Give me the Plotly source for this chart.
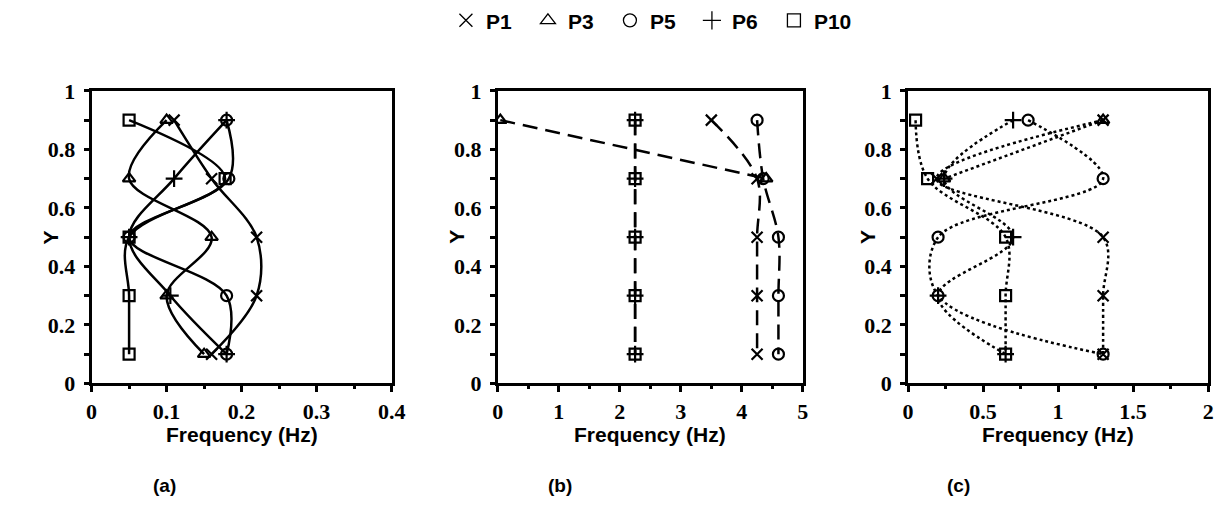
import plotly.graph_objects as go

Y = [0.9, 0.7, 0.5, 0.3, 0.1]
SERIES = ["P1", "P3", "P5", "P6", "P10"]

# panel (a)
a_P1 = [0.11, 0.16, 0.22, 0.22, 0.16]
a_P3 = [0.10, 0.05, 0.16, 0.10, 0.15]
a_P5 = [0.18, 0.183, 0.05, 0.18, 0.18]
a_P6 = [0.18, 0.11, 0.05, 0.105, 0.18]
a_P10 = [0.05, 0.178, 0.05, 0.05, 0.05]

# panel (b)
b_P1 = [3.5, 4.25, 4.25, 4.25, 4.25]
b_P3 = [0.04, 4.4, None, None, None]
b_P5 = [4.25, 4.35, 4.6, 4.6, 4.6]
b_P6 = [2.25, 2.25, 2.25, 2.25, 2.25]
b_P10 = [2.25, 2.25, 2.25, 2.25, 2.25]

# panel (c)
c_P1 = [1.3, 0.19, 1.3, 1.3, 1.3]
c_P3 = [1.3, 0.24, None, None, None]
c_P5 = [0.8, 1.3, 0.2, 0.2, 1.3]
c_P6 = [0.7, 0.24, 0.7, 0.2, 0.65]
c_P10 = [0.05, 0.13, 0.65, 0.65, 0.65]

panel_labels = ["(a)", "(b)", "(c)"]
x_ranges = [[0, 0.4], [0, 5], [0, 2]]
x_dticks = [0.1, 1, 0.5]

symbols = {"P1": "x-thin-open", "P3": "triangle-up-open", "P5": "circle-open",
           "P6": "cross-thin-open", "P10": "square-open"}
sizes = {"P1": 11, "P3": 11, "P5": 11, "P6": 12, "P10": 11}

panels = [
    {"P1": a_P1, "P3": a_P3, "P5": a_P5, "P6": a_P6, "P10": a_P10},
    {"P1": b_P1, "P3": b_P3, "P5": b_P5, "P6": b_P6, "P10": b_P10},
    {"P1": c_P1, "P3": c_P3, "P5": c_P5, "P6": c_P6, "P10": c_P10},
]
dashes = ["solid", "15px,8px", "dot"]

W, H = 1230, 519
x_dom = [[87 / W, 392 / W], [500 / W, 810 / W], [917 / W, 1222 / W]]
y_dom = [1 - 390 / H, 1 - 82 / H]

fig = go.Figure()

for i, pdata in enumerate(panels):
    xa = "x" if i == 0 else f"x{i+1}"
    ya = "y" if i == 0 else f"y{i+1}"
    for s in SERIES:
        fig.add_trace(go.Scatter(
            x=pdata[s], y=Y, xaxis=xa, yaxis=ya, mode="lines+markers",
            line=dict(color="black", width=2.5, dash=dashes[i], shape="spline", smoothing=1),
            marker=dict(symbol=symbols[s], size=sizes[s], color="black",
                        line=dict(color="black", width=2.2)),
            showlegend=False, connectgaps=False,
        ))

for s in SERIES:
    fig.add_trace(go.Scatter(
        x=[None], y=[None], mode="markers", name=s,
        marker=dict(symbol=symbols[s], size=13, color="black",
                    line=dict(color="black", width=1.3)),
    ))

tickfont = dict(family="Liberation Serif", size=22, color="black", weight="bold")
labfont = dict(family="Liberation Sans", size=21, color="black", weight="bold")
layout = dict(
    width=W, height=H, margin=dict(l=0, r=0, t=0, b=0),
    paper_bgcolor="white", plot_bgcolor="white",
    legend=dict(orientation="h", x=0.533, xanchor="center", y=1.026, yanchor="top",
                font=dict(family="Liberation Sans", size=21, color="black", weight="bold"),
                itemwidth=30, entrywidth=37, entrywidthmode="pixels", tracegroupgap=0),
)
annotations = []
for i in range(3):
    xk = "xaxis" if i == 0 else f"xaxis{i+1}"
    yk = "yaxis" if i == 0 else f"yaxis{i+1}"
    yanchor = "y" if i == 0 else f"y{i+1}"
    xanchor = "x" if i == 0 else f"x{i+1}"
    layout[xk] = dict(
        domain=x_dom[i], anchor=yanchor, range=x_ranges[i], dtick=x_dticks[i], tick0=0,
        showgrid=False, zeroline=False, showline=True, linecolor="black", linewidth=3,
        mirror=True, ticks="outside", ticklen=6, tickwidth=2.5, tickcolor="black",
        minor=dict(dtick=x_dticks[i] / 2, ticks="outside", ticklen=3, tickwidth=2.5, tickcolor="black"),
        tickfont=tickfont, ticklabelstandoff=0,
    )
    layout[yk] = dict(
        domain=y_dom, anchor=xanchor, range=[0, 1], dtick=0.2, tick0=0,
        showgrid=False, zeroline=False, showline=True, linecolor="black", linewidth=3,
        mirror=True, ticks="outside", ticklen=5, tickwidth=2.5, tickcolor="black",
        minor=dict(dtick=0.1, ticks="outside", ticklen=5, tickwidth=2.5, tickcolor="black"),
        tickfont=tickfont, ticklabelstandoff=4,
    )
    cx = (x_dom[i][0] + x_dom[i][1]) / 2
    annotations.append(dict(text="Frequency (Hz)", x=cx, y=1 - 444 / H, xref="paper", yref="paper",
                            showarrow=False, xanchor="center", yanchor="middle", font=labfont))
    annotations.append(dict(text="Y", x=x_dom[i][0] - 42 / W, y=(y_dom[0] + y_dom[1]) / 2,
                            xref="paper", yref="paper", showarrow=False, textangle=-90,
                            xanchor="center", yanchor="middle", font=labfont))
lab_x = [161, 563, 968]
for i in range(3):
    annotations.append(dict(text=panel_labels[i], x=lab_x[i] / W, y=1 - 497 / H, xref="paper", yref="paper",
                            showarrow=False, xanchor="center", yanchor="middle",
                            font=dict(family="Liberation Sans", size=19, color="black", weight="bold")))
layout["annotations"] = annotations
fig.update_layout(**layout)
fig.write_html("out.html")
